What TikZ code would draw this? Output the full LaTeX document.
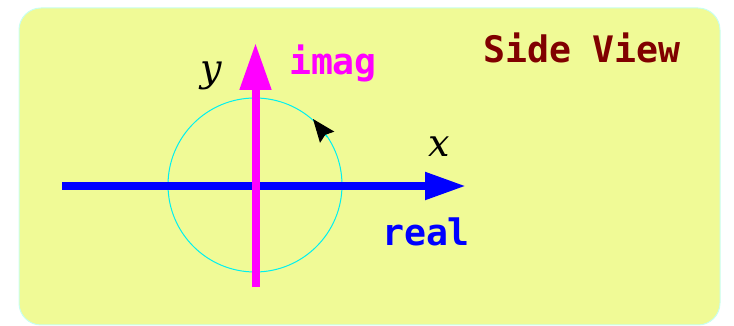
\documentclass[tikz,border=0pt]{standalone}
\usepackage{fontspec}
\setmonofont{DejaVu Sans Mono}
\newfontfamily\axisfont{DejaVu Serif}
\usetikzlibrary{arrows.meta}
\definecolor{bgyellow}{RGB}{240,250,150}
\definecolor{bgedge}{RGB}{200,255,240}
\definecolor{darkred}{RGB}{128,0,0}
\definecolor{pmagenta}{RGB}{255,0,255}
\definecolor{pcyan}{RGB}{0,240,240}
\definecolor{pblue}{RGB}{0,0,255}
\tikzset{
  panel/.style={fill=bgyellow, draw=bgedge, line width=1pt, rounded corners=22pt},
  axisline/.style={line width=8pt},
  axislbl/.style={inner sep=0pt, font=\axisfont\itshape\fontsize{38}{38}\selectfont},
  monolbl/.style={inner sep=0pt, font=\ttfamily\bfseries\fontsize{36.5}{36.5}\selectfont},
  unitcirc/.style={draw=pcyan, line width=1pt},
}
\begin{document}
\begin{tikzpicture}[x=1pt,y=1pt]
\useasboundingbox (0,0) rectangle (734,326);
\draw[panel] (19,1) rectangle (720,318);
\coordinate (O) at (255,141);
\draw[unitcirc] (O) circle[radius=87];
\coordinate (arrbase) at ([shift={(72,48)}]O);
\coordinate (arrtip) at ([shift={(58,66)}]O);
\draw[pcyan, line width=1pt, -{Stealth[length=23pt,width=18pt,inset=3pt,black]}] (arrbase) -- (arrtip);
\coordinate (xs) at (62,140);
\coordinate (xe) at (466,140);
\draw[axisline, pblue, -{Triangle[length=41pt,width=26pt]}] (xs) -- (xe);
\coordinate (ys) at (255.5,39);
\coordinate (ye) at (255.5,283);
\draw[axisline, pmagenta, -{Triangle[length=47pt,width=30pt]}] (ys) -- (ye);
\node[axislbl, anchor=base] (ylbl) at (211,244) {y};
\node[monolbl, pmagenta, anchor=base] (imag) at (333,251) {imag};
\node[axislbl, anchor=base] (xlbl) at (439,169) {x};
\node[monolbl, pblue, anchor=base] (real) at (426,80) {real};
\node[monolbl, darkred, anchor=base] (side) at (582,263) {Side View};
\end{tikzpicture}
\end{document}
